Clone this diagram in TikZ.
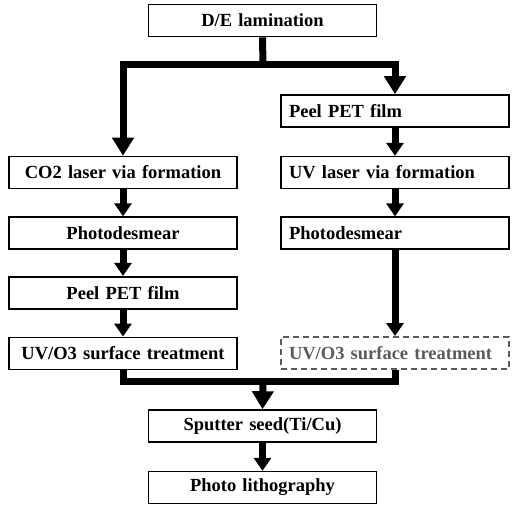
\documentclass[tikz,border=0pt]{standalone}
\usepackage{fontspec}
\setmainfont{Liberation Serif}
\usetikzlibrary{arrows.meta,
                positioning}
\definecolor{dashgray}{HTML}{5A5A5A}
\tikzset{step-box/.style=
   {rectangle,
    draw,
    line width=1.6pt,
    inner xsep=8pt,
    inner ysep=0pt,
    text width=212pt,
    align=center,
    minimum height=32pt,
    font=\fontsize{18.5}{22}\selectfont\bfseries}}
\tikzset{step-box-left/.style =
   {step-box,
    align=left}}
\tikzset{step-box-option/.style =
   {step-box-left,
    draw=dashgray,
    text=dashgray,
    dash pattern=on 6pt off 4pt}}
\tikzset{flow-line/.style = {draw, line width=7pt}}
\tikzset{flow-arrow/.style = {flow-line, -{Triangle[width=21pt,length=18pt]}}}
\tikzset{step-arrow/.style = {flow-line, -{Triangle[width=17pt,length=13pt]}}}

\begin{document}
\begin{tikzpicture}[x=1pt, y=1pt, node distance=27pt]

    \useasboundingbox (0,0) rectangle (527,-508);

    % common start
    \node [step-box] (lamination) at (262.5,-20.5) {D/E lamination};
    \coordinate (fork) at (263,-65);

    % left branch
    \node [step-box] (co2) at (123,-172.5) {CO2 laser via formation};
    \node [step-box,
           below = of co2] (desmearL) {Photodesmear};
    \node [step-box,
           node distance = 26pt,
           below = of desmearL] (peelL) {Peel PET film};
    \node [step-box,
           below = of peelL] (uvozoneL) {UV/O3 surface treatment};

    % right branch
    \node [step-box-left] (peelR) at (395,-111) {Peel PET film};
    \node [step-box-left,
           node distance = 28pt,
           below = of peelR] (uvlaser) {UV laser via formation};
    \node [step-box-left,
           below = of uvlaser] (desmearR) {Photodesmear};
    \node [step-box-option,
           node distance = 86pt,
           below = of desmearR] (uvozoneR) {UV/O3 surface treatment};

    % common end
    \coordinate (merge) at (263,-381);
    \node [step-box] (sputter) at (262.5,-426) {Sputter seed(Ti/Cu)};
    \node [step-box,
           node distance = 28pt,
           below = of sputter] (litho) {Photo lithography};

    % connectors
    \draw [flow-line] (lamination.south) -- (fork);
    \draw [flow-arrow] (fork) -| (co2.north);
    \draw [flow-arrow] (fork) -| (peelR.north);

    \draw [step-arrow] (co2) -- (desmearL);
    \draw [step-arrow] (desmearL) -- (peelL);
    \draw [step-arrow] (peelL) -- (uvozoneL);

    \draw [step-arrow] (peelR) -- (uvlaser);
    \draw [step-arrow] (uvlaser) -- (desmearR);
    \draw [step-arrow] (desmearR) -- (uvozoneR);

    \draw [flow-line] (uvozoneL.south) |- (merge) -| (uvozoneR.south);
    \draw [flow-arrow] (merge) -- (sputter.north);
    \draw [step-arrow] (sputter) -- (litho);

\end{tikzpicture}
\end{document}
